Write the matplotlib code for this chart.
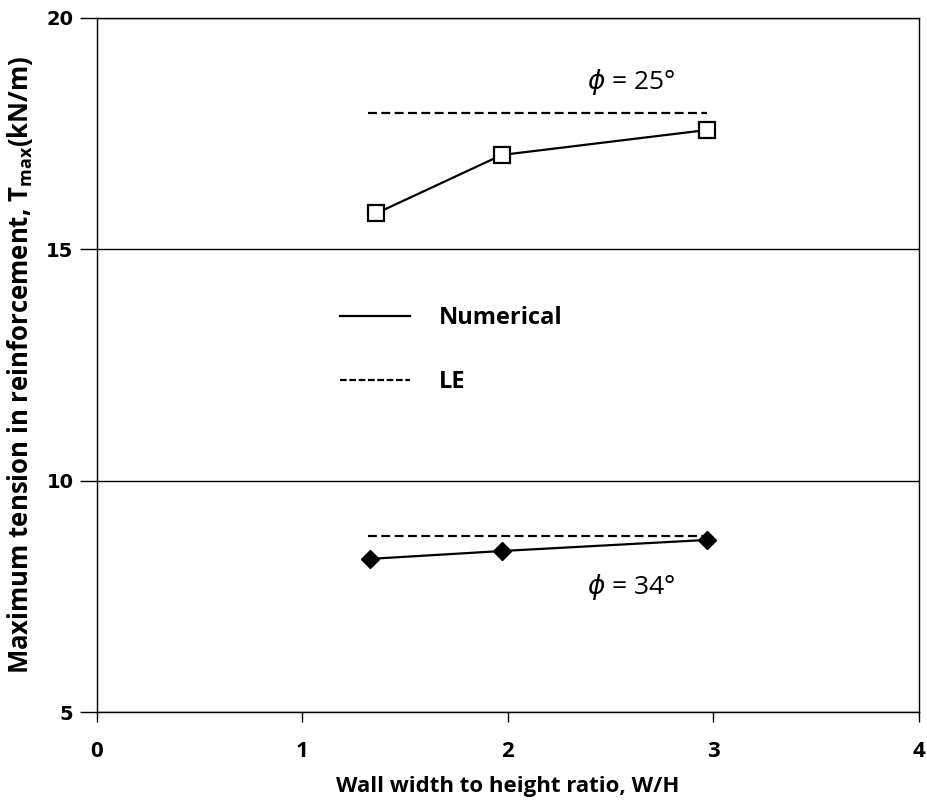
import matplotlib
matplotlib.use("Agg")
import matplotlib.pyplot as plt
from matplotlib.lines import Line2D

# W/H ratios and max reinforcement tension (kN/m)
wh_25 = [1.36, 1.97, 2.97]
tmax_25 = [15.78, 17.04, 17.58]
wh_34 = [1.33, 1.97, 2.97]
tmax_34 = [8.31, 8.48, 8.72]

# limit-equilibrium values
le_x = [1.32, 2.97]
le_25 = [17.95, 17.95]
le_34 = [8.80, 8.80]

xticks = [0, 1, 2, 3, 4]
yticks = [5, 10, 15, 20]

fig = plt.figure(figsize=(9.28, 8.07), dpi=100)
ax = fig.add_axes([0.1045, 0.1177, 0.8858, 0.8600])

lw = 1.6
ax.plot(wh_25, tmax_25, color="black", lw=lw, marker="s", ms=11,
        mfc="white", mec="black", mew=1.6, zorder=3)
ax.plot(wh_34, tmax_34, color="black", lw=lw, marker="D", ms=9,
        mfc="black", mec="black", zorder=3)
ax.plot(le_x, le_25, color="black", lw=lw, dashes=(4, 2), zorder=2)
ax.plot(le_x, le_34, color="black", lw=lw, dashes=(4, 2), zorder=2)

ax.text(2.60, 18.62, r"$\phi$ = 25°", fontsize=19, ha="center", va="center",
        family="Open Sans")
ax.text(2.60, 7.70, r"$\phi$ = 34°", fontsize=19, ha="center", va="center",
        family="Open Sans")

handles = [Line2D([], [], color="black", lw=lw),
           Line2D([], [], color="black", lw=lw, dashes=(3, 1.2))]
ax.legend(handles, ["Numerical", "LE"], loc="upper left",
          bbox_to_anchor=(0.2956, 0.585), frameon=False, handlelength=2.97,
          handletextpad=1.2, labelspacing=1.7, borderpad=0, borderaxespad=0,
          prop={"family": "Open Sans", "weight": "bold", "size": 17})

ax.set_xlim(0, 4)
ax.set_ylim(5, 20)
ax.set_xticks(xticks)
ax.set_yticks(yticks)
ax.yaxis.grid(True, color="black", lw=1.0)
ax.set_axisbelow(True)
ax.tick_params(direction="out", width=1.0, color="black")
ax.tick_params(axis="x", length=7, pad=14)
ax.tick_params(axis="y", length=12, pad=5)
for lab in ax.get_xticklabels():
    lab.set_family("Open Sans")
    lab.set_weight("bold")
    lab.set_fontsize(16)
for lab in ax.get_yticklabels():
    lab.set_family("DejaVu Sans")
    lab.set_weight("bold")
    lab.set_fontsize(14)
for sp in ax.spines.values():
    sp.set_linewidth(1.0)

ax.set_xlabel("Wall width to height ratio, W/H", family="Open Sans",
              weight="bold", fontsize=16, labelpad=10)
ax.set_ylabel(r"Maximum tension in reinforcement, T$_{\mathregular{max}}$(kN/m)",
              family="Open Sans", weight="bold", fontsize=18.5, labelpad=8)

fig.savefig("out.png", dpi=100)
